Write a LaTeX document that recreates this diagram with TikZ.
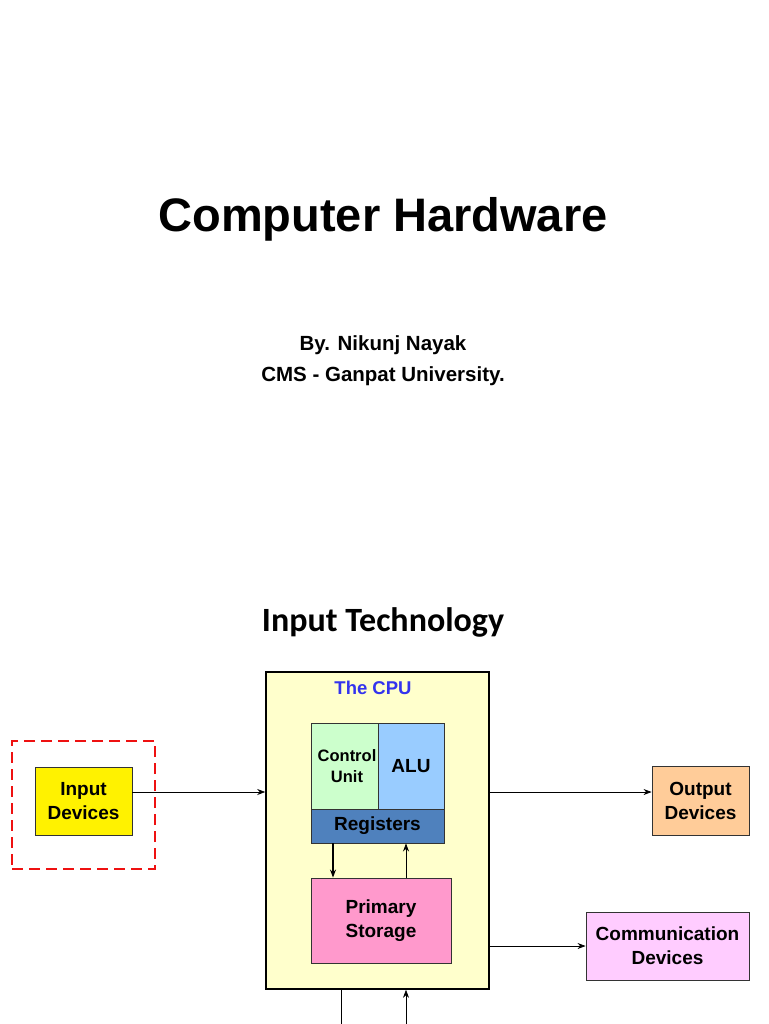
\documentclass[tikz,border=0pt]{standalone}
\usepackage{fontspec}
\setmainfont{Liberation Sans}
\newfontfamily\calfont{Carlito}
\usetikzlibrary{arrows.meta}
\definecolor{cpuyellow}{HTML}{FFFFCC}
\definecolor{cugreen}{HTML}{CCFFCC}
\definecolor{alublue}{HTML}{99CCFF}
\definecolor{regblue}{HTML}{4F81BD}
\definecolor{storpink}{HTML}{FF99CC}
\definecolor{outorange}{HTML}{FFCC99}
\definecolor{commpink}{HTML}{FFCCFF}
\definecolor{cpublue}{HTML}{3333EE}
\definecolor{dashred}{HTML}{EE1111}
\tikzset{
  box/.style={draw=black!80, line width=0.9pt, inner sep=0pt, align=center},
  conn/.style={line width=0.7pt, -{Stealth[length=8pt,width=6pt]}},
  thickconn/.style={line width=1.2pt, -{Stealth[length=8pt,width=6pt]}},
  plain/.style={line width=0.9pt},
}
\begin{document}
\begin{tikzpicture}[x=1pt,y=-1pt]
\useasboundingbox (0,0) rectangle (768,1024);
% titles
\node (title) at (383,219) {\fontsize{47}{56}\selectfont\bfseries Computer Hardware};
\node (by) at (383,345) {\fontsize{20.5}{24}\selectfont\bfseries By. Nikunj Nayak};
\node (cms) at (383,376) {\fontsize{20.5}{24}\selectfont\bfseries CMS - Ganpat University.};
\node (itech) at (383,622) {\calfont\fontsize{34}{40}\selectfont\bfseries Input Technology};
% CPU
\node[box, draw=black, line width=1.6pt, fill=cpuyellow, minimum width=223pt, minimum height=317pt] (cpu) at (377.5,830.5) {};
\node[text=cpublue, font=\fontsize{18.5}{22}\selectfont\bfseries] (cpulbl) at (373,688) {The CPU};
\node[box, fill=cugreen, minimum width=67pt, minimum height=86pt, font=\fontsize{16.5}{21}\selectfont\bfseries] (cu) at (344.5,766) {};
\node[font=\fontsize{16.5}{21}\selectfont\bfseries, align=center, inner sep=0pt] (cutext) at (347,766) {Control\\Unit};
\node[box, fill=alublue, minimum width=66pt, minimum height=86pt, font=\fontsize{19}{22}\selectfont\bfseries] (alu) at (411,766) {ALU};
\node[box, fill=regblue, minimum width=133pt, minimum height=34pt, font=\fontsize{19}{22}\selectfont\bfseries] (reg) at (377.5,826) {Registers};
\node[box, fill=storpink, minimum width=140pt, minimum height=85pt, font=\fontsize{19}{24}\selectfont\bfseries] (stor) at (381,920.5) {Primary\\Storage};
% external devices
\node[draw=dashred, line width=2.2pt, dash pattern=on 11pt off 6pt, minimum width=143pt, minimum height=128pt, inner sep=0pt] (dash) at (83.5,805) {};
\node[box, fill=yellow, minimum width=97pt, minimum height=68pt, font=\fontsize{19}{24}\selectfont\bfseries] (inp) at (83.5,801) {Input\\Devices};
\node[box, fill=outorange, minimum width=97pt, minimum height=69pt, font=\fontsize{19}{24}\selectfont\bfseries] (outp) at (700.5,800.5) {Output\\Devices};
\node[box, fill=commpink, minimum width=163pt, minimum height=68pt, font=\fontsize{19}{24}\selectfont\bfseries] (comm) at (667.5,946) {Communication\\Devices};
% connectors
\draw[conn] (inp.east |- 0,792) -- (cpu.west |- 0,792);
\draw[conn] (cpu.east |- 0,792) -- (outp.west |- 0,792);
\draw[conn] (cpu.east |- 0,946) -- (comm.west |- 0,946);
\draw[thickconn] (reg.south -| 333,0) -- (stor.north -| 333,0);
\draw[conn] (stor.north -| 406,0) -- (reg.south -| 406,0);
\coordinate (b1) at (341,1024);
\coordinate (b2) at (406,1024);
\draw[plain] (cpu.south -| b1) -- (b1);
\draw[conn] (b2) -- (cpu.south -| b2);
\end{tikzpicture}
\end{document}
